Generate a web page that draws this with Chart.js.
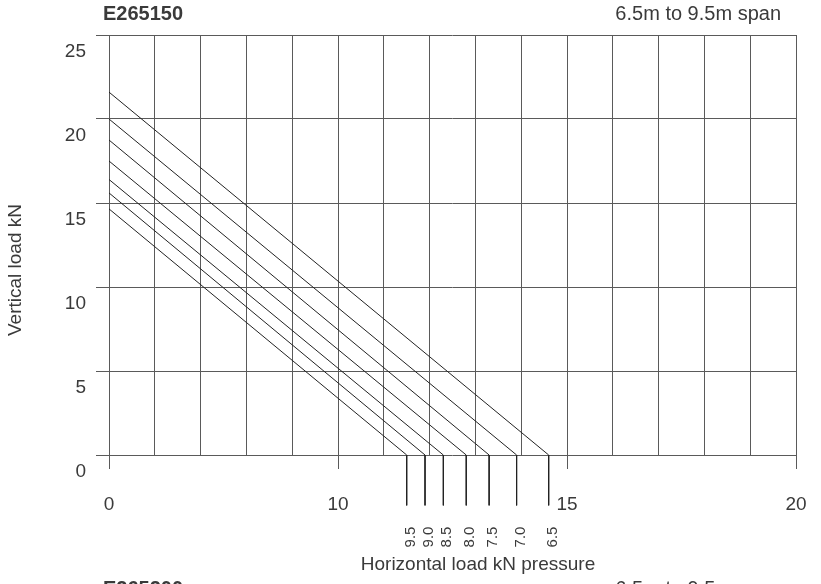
<!DOCTYPE html>
<html>
<head>
<meta charset="utf-8">
<script src="https://cdn.jsdelivr.net/npm/chart.js@4.4.1/dist/chart.umd.min.js"></script>
<style>
  html, body { margin: 0; padding: 0; background: #fff; }
  #wrap { width: 821px; height: 584px; position: relative; }
</style>
</head>
<body>
<div id="wrap"><canvas id="myChart"></canvas></div>
<script>
// span (m) of each curve, and where it meets each axis (kN)
const spans = ["9.5", "9.0", "8.5", "8.0", "7.5", "7.0", "6.5"];
const verticalAtZero = [14.65, 15.6, 16.4, 17.5, 18.75, 20.0, 21.6];
const horizontalAtZero = [11.5, 11.9, 12.3, 12.8, 13.3, 13.9, 14.6];
const xTickValues = [0, 10, 15, 20];
const yTickValues = [0, 5, 10, 15, 20, 25];
const dropTo = -3; // leader lines run below the axis down to the span labels

// the printed axis is not linear: 0-10 takes as much room as 10-15
const toAxis = v => (v <= 10 ? v / 2 : v - 5);
const fromAxis = a => (a <= 5 ? a * 2 : a + 5);

const textColor = "#3a3a3a";
const gridColor = "#5a5a5a";
const fontFamily = "'Liberation Sans', Arial, Helvetica, sans-serif";

const datasets = spans.map((s, i) => ({
  label: s + " m",
  data: [
    { x: toAxis(0), y: verticalAtZero[i] },
    { x: toAxis(horizontalAtZero[i]), y: 0 },
    { x: toAxis(horizontalAtZero[i]), y: dropTo },
  ],
  showLine: true,
  borderColor: "#222",
  borderWidth: 1,
  pointRadius: 0,
  clip: false,
}));

const isLabelled = v => xTickValues.includes(fromAxis(v));

const textPlugin = {
  id: "texts",
  afterDraw(chart) {
    const ctx = chart.ctx;
    const xs = chart.scales.x;
    ctx.save();
    ctx.fillStyle = textColor;

    // headings
    ctx.textBaseline = "alphabetic";
    ctx.font = "bold 20px " + fontFamily;
    ctx.textAlign = "left";
    ctx.fillText("E265150", 103, 20);
    ctx.fillText("E265200", 103, 595);
    ctx.font = "20px " + fontFamily;
    ctx.textAlign = "right";
    ctx.fillText("6.5m to 9.5m span", 781, 20);
    ctx.fillText("6.5m to 9.5m span", 781, 595);

    // axis titles
    ctx.font = "19px " + fontFamily;
    ctx.textAlign = "center";
    ctx.fillText("Horizontal load kN pressure", 478, 570);
    ctx.save();
    ctx.translate(16, 270);
    ctx.rotate(-Math.PI / 2);
    ctx.textBaseline = "middle";
    ctx.fillText("Vertical load kN", 0, 0);
    ctx.restore();

    // span labels under the leader lines
    ctx.font = "15px " + fontFamily;
    ctx.textBaseline = "middle";
    ctx.textAlign = "center";
    spans.forEach((s, i) => {
      const px = xs.getPixelForValue(toAxis(horizontalAtZero[i])) + 4;
      ctx.save();
      ctx.translate(px, 537);
      ctx.rotate(-Math.PI / 2);
      ctx.fillText(s, 0, 0);
      ctx.restore();
    });
    ctx.restore();
  },
};

new Chart(document.getElementById("myChart"), {
  type: "scatter",
  data: { datasets },
  options: {
    responsive: true,
    maintainAspectRatio: false,
    animation: false,
    layout: { padding: { top: 35, right: 25, left: 0, bottom: 0 } },
    plugins: { legend: { display: false }, tooltip: { enabled: false } },
    scales: {
      x: {
        type: "linear",
        min: 0,
        max: 15,
        afterFit: s => { s.height = 129; s.paddingLeft = 0; s.paddingRight = 0; },
        border: { display: false },
        grid: {
          color: gridColor,
          lineWidth: 1,
          drawTicks: true,
          tickLength: 14,
          tickColor: c => (c.tick && isLabelled(c.tick.value) ? gridColor : "rgba(0,0,0,0)"),
        },
        ticks: {
          stepSize: 1,
          autoSkip: false,
          maxRotation: 0,
          padding: 24,
          color: textColor,
          font: { family: fontFamily, size: 19 },
          callback: v => (isLabelled(v) ? String(fromAxis(v)) : ""),
        },
      },
      y: {
        type: "linear",
        min: 0,
        max: 25,
        afterFit: s => { s.width = 109; s.paddingTop = 0; s.paddingBottom = 0; },
        border: { display: false },
        grid: { color: gridColor, lineWidth: 1, drawTicks: true, tickLength: 13, tickColor: gridColor },
        ticks: {
          stepSize: 5,
          padding: 10,
          labelOffset: 17,
          color: textColor,
          font: { family: fontFamily, size: 19 },
          callback: v => (yTickValues.includes(v) ? String(v) : ""),
        },
      },
    },
  },
  plugins: [textPlugin],
});
</script>
</body>
</html>
